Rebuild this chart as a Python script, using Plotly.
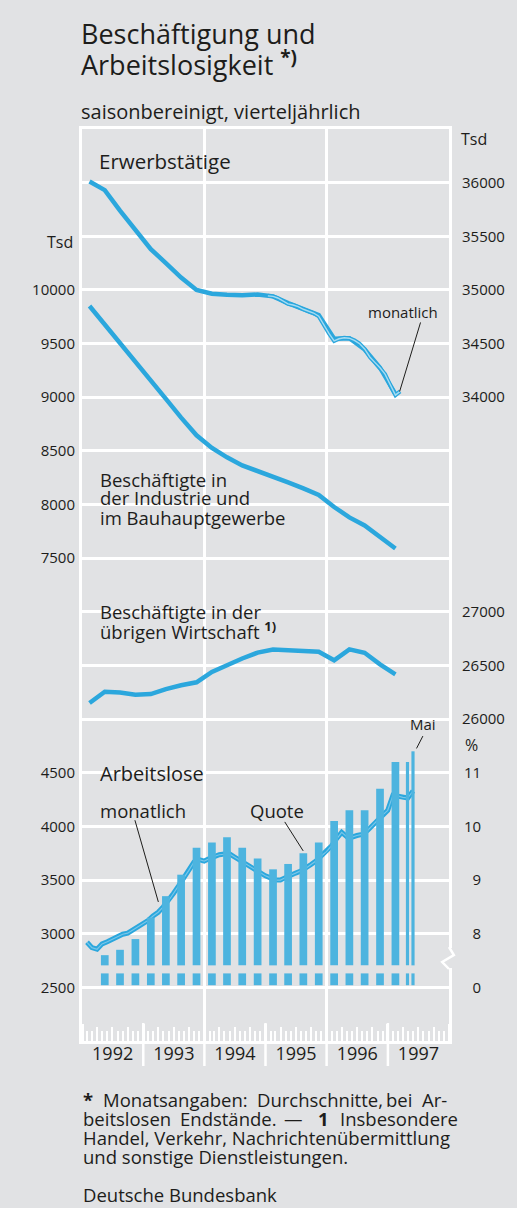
import pandas as pd
import plotly.graph_objects as go

# ---------------- data ----------------
# quarterly values Q1 1992 .. Q1 1997, in Tsd
quarters = pd.date_range("1992-01-01", "1997-01-01", freq="QS") + pd.Timedelta(days=45)
erwerbstaetige_q = [36010, 35930, 35740, 35560, 35380, 35250, 35115, 35000, 34965, 34955,
                    34950, 34958, 34940, 34877, 34825, 34765, 34545, 34550, 34445, 34275, 34030]
industrie_q = [9850, 9680, 9505, 9330, 9155, 8985, 8810, 8645, 8528, 8440,
               8365, 8313, 8264, 8206, 8150, 8089, 7977, 7880, 7805, 7702, 7590]
uebrige_q = [26150, 26255, 26248, 26228, 26233, 26280, 26315, 26343, 26440, 26505,
             26565, 26620, 26648, 26643, 26636, 26628, 26548, 26650, 26618, 26510, 26418]

# Erwerbstaetige monthly, Jan 1995 .. Mar 1997
erw_months = pd.date_range("1995-01-01", "1997-03-01", freq="MS") + pd.Timedelta(days=14)
erwerbstaetige_m = [34945, 34940, 34925, 34895, 34870, 34860, 34845, 34820, 34800, 34785,
                    34755, 34670, 34595, 34525, 34545, 34555, 34550, 34530, 34500, 34450,
                    34375, 34325, 34275, 34215, 34110, 34020, 34055]

# Arbeitslose monthly (end of month), Jan 1992 .. May 1997, in Tsd
al_months = pd.date_range("1992-02-01", periods=65, freq="MS") - pd.Timedelta(days=1)
arbeitslose_m = [2920, 2870, 2855, 2905, 2925, 2950, 2975, 2995, 3005, 3035, 3065, 3092,
                 3125, 3165, 3200, 3250, 3305, 3375, 3445, 3515, 3590, 3668, 3690, 3677,
                 3700, 3720, 3736, 3742, 3745, 3715, 3685, 3655, 3625, 3595, 3565, 3540,
                 3520, 3500, 3500, 3525, 3545, 3565, 3585, 3610, 3645, 3680, 3725, 3765,
                 3820, 3885, 3945, 3905, 3900, 3915, 3925, 3960, 4010, 4060, 4105, 4150,
                 4290, 4285, 4270, 4265, 4330]

# Quote in %, quarterly Q2 1992 .. Q1 1997, then April and May 1997
quote_dates = list(pd.date_range("1992-04-01", "1997-01-01", freq="QS") + pd.Timedelta(days=45)) \
    + [pd.Timestamp("1997-04-28"), pd.Timestamp("1997-05-31")]
quote = [7.6, 7.7, 7.9, 8.3, 8.7, 9.1, 9.6, 9.7, 9.8, 9.6,
         9.4, 9.2, 9.3, 9.5, 9.7, 10.1, 10.3, 10.3, 10.7, 11.2,
         11.2, 11.4]
quote_width_days = [46] * 20 + [19, 19]

industrie_ticks = [7500, 8000, 8500, 9000, 9500, 10000]
erwerbs_ticks = [34000, 34500, 35000, 35500, 36000]
uebrige_ticks = [26000, 26500, 27000]
arbeitslose_ticks = [2500, 3000, 3500, 4000, 4500]
quote_ticks = [7, 8, 9, 10, 11]          # 7 stands for the broken-axis zero
quote_labels = ["\u20070", "\u20078", "\u20079", "10", "11"]

# ---------------- style ----------------
BG = "#e1e2e4"
INK = "#1d1d1b"
BLUE = "#2ba7dd"
BAR = "#4db4df"
LIGHT = "#a6dcf3"
FONT = "Open Sans"
X0, X1 = "1992-01-01", "1998-01-01"
BREAK_LO, BREAK_HI = 7.26, 7.41

# plot-area pixel box, used to place texts
L, R, T, B = 82, 460, 129, 1041


def px(x):
    return (x - L) / (R - L)


def py(y):
    return (B - y) / (B - T)


fig = go.Figure()

day = 86400000
fig.add_trace(go.Bar(x=quote_dates, y=[BREAK_LO - 7.04] * len(quote), base=7.04,
                     width=[d * day for d in quote_width_days], marker=dict(color=BAR, line_width=0),
                     yaxis="y6"))
fig.add_trace(go.Bar(x=quote_dates, y=[q - BREAK_HI for q in quote], base=BREAK_HI,
                     width=[d * day for d in quote_width_days], marker=dict(color=BAR, line_width=0),
                     yaxis="y6"))

fig.add_trace(go.Scatter(x=quarters, y=erwerbstaetige_q, yaxis="y3", mode="lines",
                         line=dict(color=BLUE, width=4.5)))
fig.add_trace(go.Scatter(x=erw_months, y=erwerbstaetige_m, yaxis="y3", mode="lines",
                         line=dict(color=BLUE, width=4)))
fig.add_trace(go.Scatter(x=erw_months, y=erwerbstaetige_m, yaxis="y3", mode="lines",
                         line=dict(color=LIGHT, width=1.4)))
fig.add_trace(go.Scatter(x=quarters, y=industrie_q, yaxis="y2", mode="lines",
                         line=dict(color=BLUE, width=4.5)))
fig.add_trace(go.Scatter(x=quarters, y=uebrige_q, yaxis="y4", mode="lines",
                         line=dict(color=BLUE, width=4.5)))
fig.add_trace(go.Scatter(x=al_months, y=arbeitslose_m, yaxis="y5", mode="lines",
                         line=dict(color=BLUE, width=5)))
fig.add_trace(go.Scatter(x=al_months, y=arbeitslose_m, yaxis="y5", mode="lines",
                         line=dict(color="#79c6e9", width=1.2)))

# empty traces so the grid / tick axes get drawn
for xa in ["x", "x2", "x3"]:
    fig.add_trace(go.Scatter(x=[None], y=[None], xaxis=xa, yaxis="y", mode="lines"))

tick_font = dict(size=15, color=INK, family=FONT)
left_axis = dict(overlaying="y", side="left", showgrid=False, zeroline=False, ticks="",
                 tickformat="d", tickfont=tick_font, ticklabelstandoff=6)
right_axis = dict(overlaying="y", side="right", showgrid=False, zeroline=False, ticks="",
                  tickformat="d", tickfont=tick_font, ticklabelstandoff=12)

fig.update_layout(
    width=517, height=1208,
    margin=dict(l=L, r=517 - R, t=T, b=1208 - B),
    paper_bgcolor=BG, plot_bgcolor=BG,
    showlegend=False, barmode="overlay", hovermode=False,
    font=dict(family=FONT, color=INK),
    xaxis=dict(type="date", range=[X0, X1], dtick="M24", tick0=X0, showgrid=True,
               gridcolor="white", gridwidth=2.5, showticklabels=False, ticks="",
               showline=True, mirror=True, linecolor="white", linewidth=2.5, zeroline=False),
    xaxis2=dict(type="date", overlaying="x", anchor="y", side="bottom", range=[X0, X1],
                dtick="M12", tick0=X0, ticklabelmode="period", tickformat="%Y",
                ticks="inside", ticklen=17, tickwidth=2.5, tickcolor="white",
                minor=dict(dtick="M1", tick0=X0, ticks="inside", ticklen=10, tickwidth=1.5,
                           tickcolor="white", showgrid=False),
                showgrid=False, zeroline=False, tickfont=dict(size=18, color=INK, family=FONT)),
    xaxis3=dict(type="date", overlaying="x", anchor="y", side="bottom", range=[X0, X1],
                dtick="M3", tick0=X0, ticks="inside", ticklen=14, tickwidth=1.5,
                tickcolor="white", showticklabels=False, showgrid=False, zeroline=False),
    yaxis=dict(range=[0, 17], dtick=1, showgrid=True, gridcolor="white", gridwidth=2.5,
               showticklabels=False, ticks="", zeroline=False,
               showline=True, mirror=True, linecolor="white", linewidth=2.5),
    yaxis2=dict(left_axis, range=[3000, 11500], tickvals=industrie_ticks),
    yaxis3=dict(right_axis, range=[28000, 36500], tickvals=erwerbs_ticks),
    yaxis4=dict(right_axis, range=[23000, 31500], tickvals=uebrige_ticks),
    yaxis5=dict(left_axis, range=[2000, 10500], tickvals=arbeitslose_ticks),
    yaxis6=dict(right_axis, range=[6, 23], tickvals=quote_ticks, ticktext=quote_labels,
                ticklabelstandoff=14),
)


def note(text, x, y, size, anchor="left"):
    fig.add_annotation(text=text, x=px(x), y=py(y), xref="paper", yref="paper",
                       xanchor=anchor, yanchor="middle", showarrow=False,
                       font=dict(size=size, color=INK, family=FONT), borderpad=0)


def knockout(x0, x1, y0, y1):
    # background patch that hides grid lines behind a label
    fig.add_shape(type="rect", xref="paper", yref="paper", x0=px(x0), x1=px(x1),
                  y0=py(y1), y1=py(y0), fillcolor=BG, line_width=0, layer="between")


knockout(97, 236, 149, 173)
knockout(97, 292, 468, 528)
knockout(97, 270, 601, 641)
knockout(97, 212, 762, 785)

note("Beschäftigung und", 80, 34, 27)
note("Arbeitslosigkeit <b><sup>*)</sup></b>", 80, 64, 27)
note("saisonbereinigt, vierteljährlich", 80, 112, 20)
note("Tsd", 471, 139, 16)
note("Erwerbstätige", 98, 161, 20.5)
note("Tsd", 74, 242, 16, anchor="right")
note("monatlich", 376, 312, 15)
note("Beschäftigte in", 99, 479, 18.5)
note("der Industrie und", 99, 498, 18.5)
note("im Bauhauptgewerbe", 99, 517, 18.5)
note("Beschäftigte in der", 99, 611, 18.5)
note("übrigen Wirtschaft <b><sup>1)</sup></b>", 99, 630, 18.5)
note("Mai", 419, 724, 15)
note("%", 475, 745, 16)
note("Arbeitslose", 99, 773, 20)
note("monatlich", 99, 810, 18.5)
note("Quote", 254, 810, 18.5)

# footnote, justified by placing the words
foot_rows = [
    (1099, [("<b>*</b>", 82), ("Monatsangaben:", 103), ("Durchschnitte,", 261),
            ("bei", 394), ("Ar-", 431)]),
    (1118, [("beitslosen", 82), ("Endstände.", 182), ("—", 289), ("<b>1</b>", 324),
            ("Insbesondere", 347)]),
    (1137, [("Handel, Verkehr, Nachrichtenübermittlung", 82)]),
    (1156, [("und sonstige Dienstleistungen.", 82)]),
]
for row_y, words in foot_rows:
    for word, wx in words:
        note(word, wx, row_y, 18.5)
note("Deutsche Bundesbank", 82, 1194, 18.5)

# leader lines
leaders = [
    ("y3", "1997-07-15", 34697, "1997-03-12", 34053),
    ("y5", "1992-11-12", 4058, "1993-04-01", 3296),
    ("y5", "1995-04-26", 4042, "1995-08-14", 3772),
    ("y5", "1997-07-29", 4842, "1997-06-21", 4727),
]
for yref, xa, ya, xb, yb in leaders:
    fig.add_shape(type="line", xref="x", yref=yref, x0=xa, y0=ya, x1=xb, y1=yb,
                  line=dict(color=INK, width=1))

# year separators below the frame
for yr in range(1993, 1998):
    fig.add_shape(type="line", xref="x", yref="paper", x0=f"{yr}-01-01", x1=f"{yr}-01-01",
                  y0=py(1066), y1=py(1023), line=dict(color="white", width=2.5), layer="above")

# small gaps in some grid lines
for gy, ga, gb in [(290, 127, 176), (343, 190, 239), (396, 235, 283)]:
    knockout(ga, gb, gy - 3, gy + 3)

# axis break mark on the right frame
fig.add_shape(type="rect", xref="paper", yref="paper", x0=px(456), x1=px(465),
              y0=py(968), y1=py(948), fillcolor=BG, line_width=0, layer="above")
fig.add_shape(type="path", xref="paper", yref="paper",
              path=f"M {px(460)},{py(947)} L {px(465)},{py(955)} L {px(453)},{py(962)} "
                   f"L {px(460)},{py(969)}",
              line=dict(color="white", width=2.5), layer="above")

fig.write_html("out.html", config={"displayModeBar": False},
               post_script="document.body.style.margin = '0';")
